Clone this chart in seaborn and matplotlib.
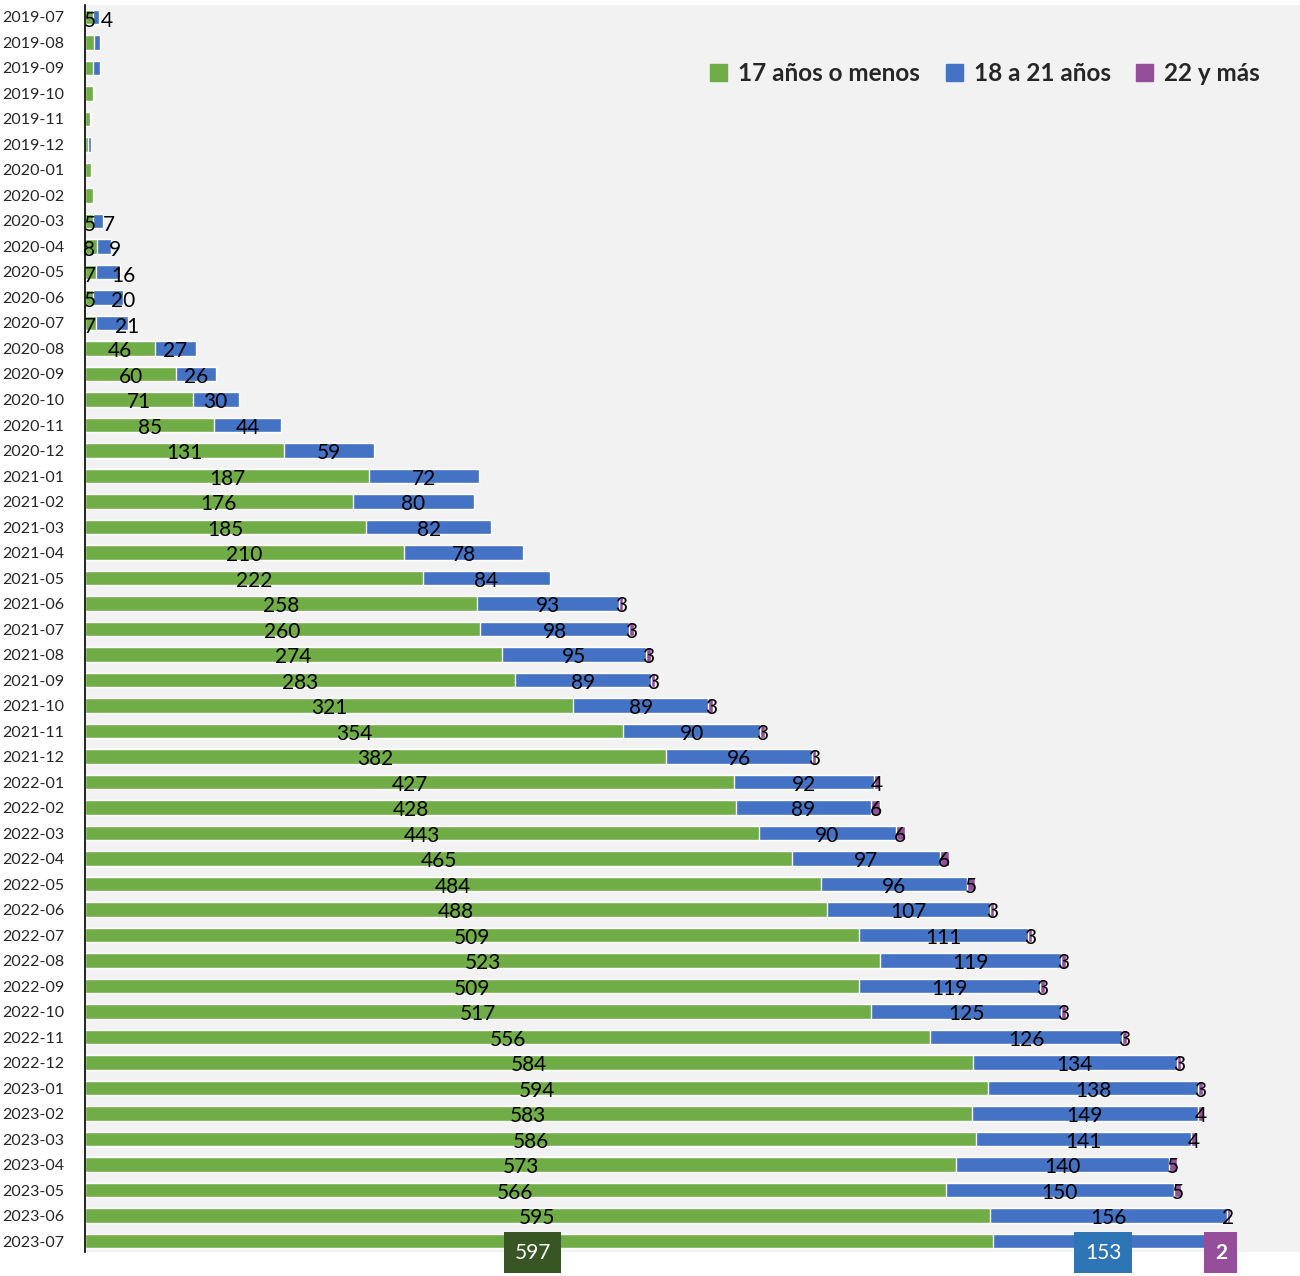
import numpy as np
import pandas as pd
import matplotlib
matplotlib.use("Agg")
import matplotlib.pyplot as plt
import seaborn as sns

# monthly counts by age group
months = pd.period_range("2019-07", "2023-07", freq="M").strftime("%Y-%m").tolist()

age_17 = [5, 6, 5, 5, 3, 2,
          4, 5, 5, 8, 7, 5, 7, 46, 60, 71, 85, 131,
          187, 176, 185, 210, 222, 258, 260, 274, 283, 321, 354, 382,
          427, 428, 443, 465, 484, 488, 509, 523, 509, 517, 556, 584,
          594, 583, 586, 573, 566, 595, 597]
age_18_21 = [4, 4, 5, 1, 1, 2,
             0, 0, 7, 9, 16, 20, 21, 27, 26, 30, 44, 59,
             72, 80, 82, 78, 84, 93, 98, 95, 89, 89, 90, 96,
             92, 89, 90, 97, 96, 107, 111, 119, 119, 125, 126, 134,
             138, 149, 141, 140, 150, 156, 153]
age_22 = [0] * 23 + [3, 3, 3, 3, 3, 3, 3,
                     4, 6, 6, 6, 5, 3, 3, 3, 3, 3, 3, 3,
                     3, 4, 4, 5, 5, 2, 2]
# months whose bars carry no data labels
unlabeled = ["2019-08", "2019-09", "2019-10", "2019-11", "2019-12", "2020-01", "2020-02"]

series_names = ["17 años o menos", "18 a 21 años", "22 y más"]
colors = ["#70AD47", "#4472C4", "#954F9A"]
box_colors = ["#375623", "#2E75B6", "#954F9A"]

df = pd.DataFrame({"month": months, "g1": age_17, "g2": age_18_21, "g3": age_22})
df["c1"] = df["g1"]
df["c2"] = df["g1"] + df["g2"]
df["c3"] = df["g1"] + df["g2"] + df["g3"]

sns.set_style("white")
plt.rcParams["font.family"] = ["Lato", "DejaVu Sans"]

fig = plt.figure(figsize=(13, 12.76), dpi=100)
ax = fig.add_axes([85 / 1300, 24 / 1276, 1 - 85 / 1300, (1252 - 5) / 1276])
ax.set_facecolor("#F2F2F2")

# stacked bars: draw cumulative totals back to front
for col, color in zip(["c3", "c2", "c1"], colors[::-1]):
    sns.barplot(data=df, x=col, y="month", color=color, width=0.58,
                saturation=1, ax=ax, orient="h")

ax.set_xlim(0, 799)
ax.set_ylim(len(months) - 1 + 0.43, -0.47)
ax.set_xlabel("")
ax.set_ylabel("")
ax.set_xticks([])
ax.tick_params(axis="y", length=0, pad=15, labelsize=11.5)
for s in ["top", "right", "bottom"]:
    ax.spines[s].set_visible(False)
ax.spines["left"].set_color("black")
ax.spines["left"].set_linewidth(1.2)

# data labels
last = len(months) - 1
for i, row in df.iterrows():
    if row["month"] in unlabeled:
        continue
    starts = [0, row["c1"], row["c2"]]
    vals = [row["g1"], row["g2"], row["g3"]]
    small = row["c2"] < 40
    for k in range(3):
        if vals[k] <= 0:
            continue
        xc = starts[k] + vals[k] / 2
        if i == last:
            ax.text(xc - 4, i + 0.45, str(vals[k]), ha="center", va="center",
                    fontsize=15, color="white", fontweight="bold" if k == 2 else "normal",
                    bbox=dict(boxstyle="square,pad=0.5", fc=box_colors[k], ec="none"),
                    clip_on=False, zorder=5)
        elif small and k == 0:
            # tiny segments: push labels apart like the source chart
            ax.text(-1, i + 0.15, str(vals[k]), ha="left", va="center",
                    fontsize=15, color="black", zorder=4)
        elif small and k == 1:
            ax.text(max(row["c2"] + 4 - 0.6 * vals[k], 9), i + 0.15, str(vals[k]),
                    ha="left", va="center", fontsize=15, color="black", zorder=4)
        else:
            ax.text(xc, i + 0.1, str(vals[k]), ha="center", va="center",
                    fontsize=15, color="black", zorder=4)

handles = [plt.Rectangle((0, 0), 1, 1, color=c) for c in colors]
ax.legend(handles, series_names, loc="upper right", bbox_to_anchor=(0.985, 0.972),
          ncol=3, frameon=False, handlelength=0.7, handleheight=0.7,
          handletextpad=0.45, columnspacing=1.05,
          prop={"size": 17.5, "weight": "bold"})

fig.savefig("out.png", dpi=100)
